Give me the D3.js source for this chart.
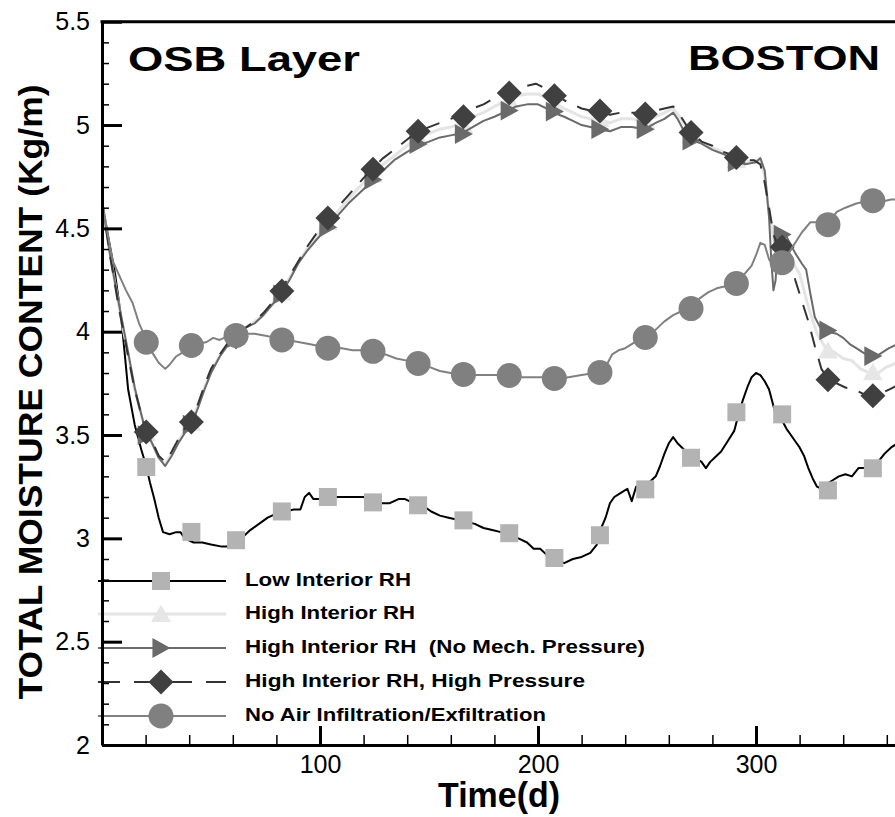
<!DOCTYPE html>
<html>
<head>
<meta charset="utf-8">
<script src="https://cdn.jsdelivr.net/npm/d3@7/dist/d3.min.js"></script>
<style>
  html, body { margin: 0; padding: 0; background: #fff; }
  svg { display: block; }
  text { font-family: "Liberation Sans", Arial, Helvetica, sans-serif; }
</style>
</head>
<body>
<svg id="chart" width="895" height="817"></svg>
<script>
// ---- Data: OSB layer total moisture content, Boston (day, kg/m) ----
const xTicksMajor = [100, 200, 300];
const yTicksMajor = [2, 2.5, 3, 3.5, 4, 4.5, 5, 5.5];

// Days at which the series symbols are placed
const markerDays = [20.3, 41, 61.5, 82.5, 103.6, 124.3, 145, 165.8, 186.8, 207.5, 228.4, 249.2, 270.2, 291, 312, 333, 353.6];

const lowRhLine = [[0,4.63],[3,4.45],[6,4.28],[9,4.05],[12,3.72],[15,3.55],[18,3.43],[20,3.36],[22,3.27],[24,3.19],[26,3.1],[28,3.03],[31,3.02],[34,3.03],[36,3.03],[38,3.0],[42,2.98],[46,2.98],[50,2.97],[55,2.96],[60,2.96],[64,3.0],[68,3.04],[72,3.07],[76,3.1],[80,3.12],[84,3.13],[88,3.14],[91,3.14],[93,3.2],[95,3.22],[97,3.19],[100,3.19],[104,3.2],[108,3.2],[112,3.2],[116,3.2],[120,3.2],[124,3.18],[128,3.17],[132,3.17],[136,3.19],[139,3.19],[143,3.17],[147,3.16],[151,3.13],[155,3.11],[159,3.1],[163,3.09],[167,3.08],[171,3.07],[175,3.05],[179,3.04],[183,3.03],[187,3.02],[191,3.0],[195,2.98],[198,2.95],[201,2.95],[204,2.92],[208,2.9],[212,2.88],[216,2.9],[220,2.91],[224,2.93],[227,2.97],[229,3.05],[231,3.1],[233,3.17],[235,3.2],[238,3.22],[241,3.24],[243,3.18],[245,3.25],[248,3.26],[251,3.27],[254,3.3],[256,3.35],[258,3.41],[260,3.46],[262,3.49],[264,3.46],[266,3.44],[269,3.41],[272,3.39],[275,3.37],[277,3.34],[279,3.37],[281,3.39],[284,3.42],[287,3.47],[290,3.52],[292,3.6],[294,3.67],[296,3.73],[298,3.78],[300,3.8],[302,3.79],[304,3.76],[306,3.72],[308,3.64],[310,3.58],[312,3.57],[314,3.53],[316,3.5],[318,3.47],[320,3.44],[322,3.4],[324,3.34],[326,3.29],[328,3.25],[330,3.24],[332,3.26],[335,3.28],[338,3.3],[341,3.31],[344,3.3],[347,3.34],[350,3.34],[353,3.35],[356,3.37],[359,3.41],[362,3.44],[365,3.46]];
const lowRhMarks = [3.345, 3.031, 2.991, 3.13, 3.2, 3.174, 3.16, 3.087, 3.025, 2.905, 3.015, 3.237, 3.39, 3.61, 3.6, 3.232, 3.339];

const highRhLine = [[0,4.63],[4,4.35],[8,4.11],[12,3.89],[15,3.72],[18,3.6],[20,3.52],[23,3.46],[26,3.39],[29,3.36],[32,3.41],[35,3.47],[38,3.52],[41,3.56],[44,3.64],[47,3.73],[50,3.81],[54,3.88],[58,3.94],[62,3.99],[66,4.02],[70,4.05],[74,4.08],[78,4.13],[82,4.19],[86,4.26],[90,4.33],[94,4.4],[98,4.46],[103,4.52],[108,4.58],[113,4.64],[118,4.7],[124,4.76],[129,4.81],[134,4.85],[140,4.9],[145,4.94],[150,4.96],[155,4.98],[160,4.99],[165,5.01],[170,5.04],[175,5.06],[180,5.09],[186,5.12],[190,5.14],[195,5.15],[200,5.15],[204,5.13],[207,5.11],[212,5.08],[216,5.06],[220,5.04],[224,5.03],[228,5.03],[233,5.01],[238,5.03],[243,5.03],[249,5.02],[254,5.04],[258,5.06],[262,5.08],[265,5.04],[268,4.99],[271,4.95],[275,4.92],[280,4.89],[285,4.87],[290,4.84],[295,4.82],[300,4.83],[302,4.83],[304,4.75],[306,4.58],[308,4.45],[310,4.43],[312,4.44],[314,4.42],[316,4.35],[320,4.28],[324,4.12],[328,3.99],[332,3.92],[336,3.9],[340,3.87],[344,3.86],[348,3.82],[352,3.8],[356,3.8],[360,3.83],[365,3.85]];
const highRhMarks = [3.51, 3.56, 3.98, 4.19, 4.53, 4.76, 4.94, 5.0, 5.12, 5.1, 5.03, 5.02, 4.95, 4.83, 4.43, 3.909, 3.804];

const noMechLine = [[0,4.63],[4,4.35],[8,4.12],[12,3.9],[15,3.73],[18,3.6],[20,3.52],[23,3.46],[26,3.39],[29,3.35],[32,3.4],[35,3.46],[38,3.51],[41,3.55],[44,3.63],[47,3.72],[50,3.8],[54,3.88],[58,3.94],[62,3.99],[66,4.02],[70,4.04],[74,4.08],[78,4.13],[82,4.18],[86,4.25],[90,4.33],[94,4.39],[98,4.44],[103,4.5],[108,4.56],[113,4.62],[118,4.67],[124,4.73],[129,4.78],[134,4.83],[140,4.87],[145,4.9],[150,4.92],[155,4.94],[160,4.95],[165,4.96],[170,4.99],[175,5.02],[180,5.04],[186,5.07],[190,5.09],[195,5.1],[200,5.1],[204,5.08],[207,5.06],[212,5.04],[216,5.02],[220,5.0],[224,4.99],[228,4.98],[233,4.97],[238,4.99],[243,4.99],[249,4.98],[254,5.01],[258,5.03],[262,5.06],[264,5.03],[267,4.97],[270,4.93],[275,4.91],[280,4.88],[285,4.86],[290,4.83],[295,4.81],[300,4.82],[302,4.84],[304,4.78],[306,4.55],[307,4.35],[308,4.2],[309,4.25],[310,4.42],[312,4.46],[314,4.46],[316,4.42],[318,4.38],[321,4.33],[323,4.3],[325,4.18],[327,4.07],[330,4.01],[333,4.0],[337,3.99],[340,3.97],[343,3.94],[346,3.92],[349,3.9],[352,3.88],[355,3.88],[358,3.9],[361,3.92],[365,3.94]];
const noMechMarks = [3.5, 3.55, 3.97, 4.18, 4.505, 4.735, 4.908, 4.956, 5.07, 5.065, 4.98, 4.98, 4.924, 4.82, 4.47, 4.006, 3.882];

const highPressLine = [[0,4.63],[4,4.35],[8,4.1],[12,3.88],[15,3.72],[18,3.6],[20,3.53],[23,3.47],[26,3.4],[29,3.37],[32,3.42],[35,3.48],[38,3.53],[41,3.57],[44,3.65],[47,3.74],[50,3.82],[54,3.89],[58,3.95],[62,3.99],[66,4.02],[70,4.05],[74,4.09],[78,4.14],[82,4.2],[86,4.27],[90,4.34],[94,4.41],[98,4.47],[103,4.55],[108,4.6],[113,4.66],[118,4.72],[124,4.79],[129,4.84],[134,4.88],[140,4.93],[145,4.97],[150,4.99],[155,5.01],[160,5.03],[165,5.05],[170,5.08],[175,5.1],[180,5.13],[186,5.16],[190,5.18],[195,5.19],[199,5.2],[203,5.18],[207,5.15],[212,5.12],[216,5.1],[220,5.08],[224,5.07],[228,5.07],[233,5.05],[238,5.06],[243,5.06],[249,5.06],[254,5.07],[258,5.08],[262,5.09],[265,5.05],[268,5.0],[271,4.96],[275,4.92],[280,4.9],[285,4.87],[290,4.85],[295,4.83],[299,4.83],[302,4.81],[304,4.72],[306,4.6],[308,4.47],[310,4.42],[312,4.42],[314,4.43],[316,4.35],[318,4.25],[321,4.15],[324,4.05],[327,3.93],[330,3.82],[333,3.77],[337,3.75],[341,3.73],[345,3.72],[349,3.7],[353,3.69],[357,3.7],[361,3.72],[365,3.74]];
const highPressMarks = [3.514, 3.563, 3.975, 4.197, 4.55, 4.786, 4.97, 5.04, 5.155, 5.142, 5.068, 5.053, 4.964, 4.843, 4.41, 3.768, 3.69];

const noAirLine = [[0,4.63],[3,4.45],[5,4.34],[8,4.27],[11,4.2],[14,4.14],[17,4.04],[20,3.97],[23,3.9],[26,3.85],[29,3.82],[31,3.84],[34,3.88],[37,3.9],[40,3.93],[44,3.94],[48,3.95],[51,3.97],[54,3.96],[58,3.98],[62,3.99],[66,3.99],[70,3.99],[75,3.98],[80,3.97],[85,3.96],[90,3.95],[95,3.94],[100,3.93],[105,3.92],[110,3.92],[115,3.91],[120,3.91],[125,3.9],[130,3.89],[135,3.87],[140,3.86],[145,3.85],[150,3.83],[155,3.81],[160,3.8],[166,3.79],[172,3.79],[178,3.79],[184,3.79],[190,3.78],[196,3.78],[202,3.78],[208,3.77],[214,3.78],[220,3.79],[226,3.8],[230,3.82],[232,3.85],[234,3.89],[237,3.91],[240,3.92],[243,3.94],[246,3.96],[250,3.98],[254,4.01],[258,4.05],[262,4.08],[266,4.1],[270,4.11],[274,4.16],[278,4.19],[282,4.21],[286,4.22],[290,4.24],[294,4.27],[298,4.32],[300,4.37],[302,4.43],[304,4.42],[306,4.35],[308,4.32],[312,4.33],[315,4.38],[318,4.43],[321,4.48],[325,4.53],[329,4.53],[333,4.52],[337,4.58],[341,4.6],[346,4.62],[350,4.63],[354,4.63],[358,4.63],[362,4.64],[365,4.64]];
const noAirMarks = [3.949, 3.933, 3.982, 3.96, 3.92, 3.905, 3.846, 3.793, 3.788, 3.774, 3.803, 3.972, 4.112, 4.233, 4.334, 4.518, 4.634];

const legendLabels = [
  "Low Interior RH",
  "High Interior RH",
  "High Interior RH  (No Mech. Pressure)",
  "High Interior RH, High Pressure",
  "No Air Infiltration/Exfiltration"
];

// ---- Layout ----
const svg = d3.select("#chart");
const x = d3.scaleLinear().domain([0, 365]).range([102, 102 + 365 * 2.18]);
const y = d3.scaleLinear().domain([2, 5.5]).range([745, 21.7]);

// ---- Symbol path builders ----
const shapes = {
  square: (s) => `M${-s/2},${-s/2}h${s}v${s}h${-s}Z`,
  triUp: (s) => `M0,${-s*0.52}L${s*0.55},${s*0.45}L${-s*0.55},${s*0.45}Z`,
  triRight: (s) => `M${-s*0.45},${-s*0.52}L${s*0.5},0L${-s*0.45},${s*0.52}Z`,
  diamond: (s) => `M0,${-s/2}L${s/2},0L0,${s/2}L${-s/2},0Z`,
  circle: (s) => `M${-s/2},0A${s/2},${s/2} 0 1,0 ${s/2},0A${s/2},${s/2} 0 1,0 ${-s/2},0Z`
};

const series = [
  { line: lowRhLine, marks: lowRhMarks, stroke: "#000000", width: 2, dash: null, shape: "square", size: 18, fill: "#b3b3b3" },
  { line: highRhLine, marks: highRhMarks, stroke: "#e4e4e4", width: 3, dash: null, shape: "triUp", size: 18, fill: "#e6e6e6" },
  { line: noMechLine, marks: noMechMarks, stroke: "#6a6a6a", width: 2, dash: null, shape: "triRight", size: 19, fill: "#6a6a6a" },
  { line: highPressLine, marks: highPressMarks, stroke: "#333333", width: 2, dash: "16,12", shape: "diamond", size: 25, fill: "#404040" },
  { line: noAirLine, marks: noAirMarks, stroke: "#808080", width: 2, dash: null, shape: "circle", size: 25, fill: "#808080" }
];

const lineGen = d3.line().x(d => x(d[0])).y(d => y(d[1]));

const plot = svg.append("g").attr("class", "plot");
series.forEach((s) => {
  plot.append("path")
    .datum(s.line)
    .attr("d", lineGen)
    .attr("fill", "none")
    .attr("stroke", s.stroke)
    .attr("stroke-width", s.width)
    .attr("stroke-linejoin", "round")
    .attr("stroke-dasharray", s.dash);
  plot.append("g").selectAll("path")
    .data(markerDays.map((d, i) => [d, s.marks[i]]))
    .join("path")
    .attr("transform", d => `translate(${x(d[0])},${y(d[1])})`)
    .attr("d", shapes[s.shape](s.size))
    .attr("fill", s.fill);
});

// ---- Legend ----
const legend = svg.append("g").attr("class", "legend");
const legendRows = [581, 614, 648, 682, 716];
const legendTextLen = [166, 170, 400, 340, 301];
series.forEach((s, i) => {
  const ly = legendRows[i];
  legend.append("line")
    .attr("x1", 98).attr("x2", 226).attr("y1", ly).attr("y2", ly)
    .attr("stroke", s.stroke).attr("stroke-width", s.width)
    .attr("stroke-dasharray", s.dash ? "22,14" : null);
  legend.append("path")
    .attr("transform", `translate(161,${ly})`)
    .attr("d", shapes[s.shape](s.size))
    .attr("fill", s.fill);
  legend.append("text")
    .attr("x", 245).attr("y", ly + 5)
    .attr("font-size", 19).attr("font-weight", "bold")
    .attr("textLength", legendTextLen[i])
    .attr("lengthAdjust", "spacingAndGlyphs")
    .attr("fill", "#000")
    .style("white-space", "pre")
    .text(legendLabels[i]);
});

// ---- Axes ----
const yAxis = svg.append("g").attr("transform", "translate(102,0)")
  .call(d3.axisLeft(y).tickValues(yTicksMajor).tickSizeInner(-20).tickSizeOuter(0)
    .tickPadding(12).tickFormat(d3.format("~g")));
const yMinor = svg.append("g").attr("transform", "translate(102,0)")
  .call(d3.axisLeft(y).tickValues(d3.range(21, 55).map(v => v / 10).filter(v => Math.round(v * 10) % 5 !== 0))
    .tickSizeInner(-7).tickSizeOuter(0).tickFormat(""));
const xAxis = svg.append("g").attr("transform", "translate(0,745)")
  .call(d3.axisBottom(x).tickValues(xTicksMajor).tickSizeInner(-19).tickSizeOuter(0)
    .tickPadding(10).tickFormat(d3.format("d")));
const xMinor = svg.append("g").attr("transform", "translate(0,745)")
  .call(d3.axisBottom(x).tickValues(d3.range(20, 365, 20).filter(v => v % 100 !== 0))
    .tickSizeInner(-10).tickSizeOuter(0).tickFormat(""));

[yAxis, xAxis].forEach(g => {
  g.select(".domain").attr("stroke", "#000").attr("stroke-width", 3);
  g.selectAll(".tick line").attr("stroke", "#000").attr("stroke-width", 3);
  g.selectAll(".tick text").attr("font-size", 25).attr("fill", "#000")
    .style("font-family", "'Liberation Sans', Arial, sans-serif");
});
[yMinor, xMinor].forEach(g => {
  g.select(".domain").remove();
  g.selectAll(".tick line").attr("stroke", "#000").attr("stroke-width", 1.5);
});

// top frame line
svg.append("line")
  .attr("x1", 100.5).attr("x2", x(365)).attr("y1", y(5.5)).attr("y2", y(5.5))
  .attr("stroke", "#000").attr("stroke-width", 3);

// ---- Titles ----
svg.append("text")
  .attr("x", 128).attr("y", 71)
  .attr("font-size", 35).attr("font-weight", "bold")
  .attr("textLength", 232).attr("lengthAdjust", "spacingAndGlyphs")
  .text("OSB Layer");
svg.append("text")
  .attr("x", 688).attr("y", 70)
  .attr("font-size", 35).attr("font-weight", "bold")
  .attr("textLength", 192).attr("lengthAdjust", "spacingAndGlyphs")
  .text("BOSTON");
svg.append("text")
  .attr("x", 499).attr("y", 807)
  .attr("text-anchor", "middle")
  .attr("font-size", 35).attr("font-weight", "bold")
  .attr("textLength", 122).attr("lengthAdjust", "spacingAndGlyphs")
  .text("Time(d)");
svg.append("text")
  .attr("transform", "translate(42,392) rotate(-90)")
  .attr("text-anchor", "middle")
  .attr("font-size", 34).attr("font-weight", "bold")
  .attr("textLength", 615).attr("lengthAdjust", "spacingAndGlyphs")
  .text("TOTAL MOISTURE CONTENT (Kg/m)");
</script>
</body>
</html>
